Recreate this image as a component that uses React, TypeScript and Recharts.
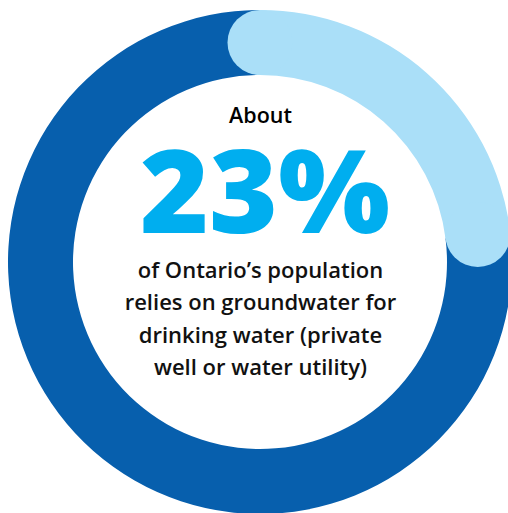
import { PieChart, Pie, Cell } from 'recharts'

// Share of Ontario's population by drinking-water source
const sources = ['Groundwater', 'Other sources']
const shares = [23, 77]
const sourceColors = ['#aadff8', '#075fad']
const bodyLines = ['of Ontario\u2019s population', 'relies on groundwater for', 'drinking water (private', 'well or water utility)']

const data = sources.map((name, i) => ({ name, value: shares[i] }))

const RAD = Math.PI / 180

// rounded caps on the groundwater arc, placed from the pie's own sector geometry
function renderCaps(props: any) {
  const { cx, cy, innerRadius, outerRadius, startAngle, endAngle, index } = props
  if (index !== 0) return <g />
  const r = (innerRadius + outerRadius) / 2
  const w = (outerRadius - innerRadius) / 2
  const at = (a: number) => ({ x: cx + r * Math.cos(-a * RAD), y: cy + r * Math.sin(-a * RAD) })
  const s = at(startAngle)
  const e = at(endAngle)
  return (
    <g>
      <circle cx={s.x} cy={s.y} r={w} fill={sourceColors[0]} />
      <circle cx={e.x} cy={e.y} r={w} fill={sourceColors[0]} />
    </g>
  )
}

const FONT = '"Open Sans", "Noto Sans", sans-serif'

export default function App() {
  return (
    <div style={{ position: 'absolute', left: 0, top: 0, width: 508, height: 513, background: '#fff' }}>
      <PieChart width={508} height={513} margin={{ top: 0, right: 0, bottom: 0, left: 0 }}>
        <Pie
          data={data}
          dataKey="value"
          nameKey="name"
          cx={260}
          cy={262}
          innerRadius={187}
          outerRadius={252}
          startAngle={90}
          endAngle={-270}
          stroke="none"
          label={renderCaps}
          labelLine={false}
          isAnimationActive={false}
        >
          {data.map((d, i) => (
            <Cell key={d.name} fill={sourceColors[i]} />
          ))}
        </Pie>
      </PieChart>
      <svg width={508} height={513} style={{ position: 'absolute', left: 0, top: 0, pointerEvents: 'none' }}>
        <text x={260.5} y={123} textAnchor="middle" fontFamily={FONT} fontWeight={600} fontSize={21.5} fill="#000">
          About
        </text>
        <text
          x={265}
          y={233}
          textAnchor="middle"
          fontFamily={FONT}
          fontWeight={800}
          fontSize={116}
          fill="#00aeef"
          textLength={250}
          lengthAdjust="spacingAndGlyphs"
        >
          23%
        </text>
        {bodyLines.map((line, i) => (
          <text key={line} x={260.5} y={278 + i * 32.3} textAnchor="middle" fontFamily={FONT} fontWeight={600} fontSize={22} fill="#111">
            {line}
          </text>
        ))}
      </svg>
    </div>
  )
}
